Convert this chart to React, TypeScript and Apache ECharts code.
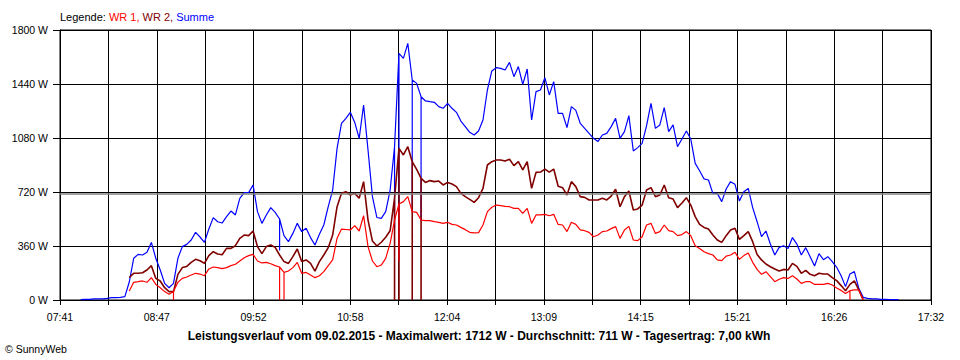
import { useEffect, useRef } from "react";
import * as echarts from "echarts";

// X axis tick labels (first..last), equally spaced
const xTickLabels = ["07:41", "08:47", "09:52", "10:58", "12:04", "13:09", "14:15", "15:21", "16:26", "17:32"];
const axisStartTime = "07:41";
const axisEndTime = "17:32";

// Samples: every 3 minutes starting at 07:55
const sampleStart = "07:55";
const sampleStepMin = 3;

const summe = [
  3, 4, 4, 7, 7, 7, 11, 16, 16, 18, 22, 120, 278, 304, 300, 318, 384, 278, 200, 111,
  82, 111, 278, 356, 371, 400, 451, 420, 384, 473, 549, 522, 513, 556, 593, 567, 678, 716, 716, 767,
  589, 511, 567, 616, 584, 540, 429, 389, 444, 511, 456, 478, 416, 367, 438, 500, 622, 733, 1011, 1178,
  1211, 1251, 1184, 1078, 1300, 1000, 689, 550, 544, 589, 733, 1022, 1644, 1611, 1711, 1467, 1444, 1355, 1327, 1322,
  1318, 1289, 1278, 1311, 1278, 1251, 1193, 1156, 1118, 1100, 1127, 1200, 1400, 1527, 1549, 1544, 1533, 1584, 1489, 1556,
  1438, 1540, 1200, 1389, 1400, 1482, 1367, 1456, 1244, 1244, 1149, 1289, 1264, 1178, 1144, 1111, 1078, 1056, 1100, 1111,
  1156, 1211, 1078, 1122, 1229, 993, 1016, 1044, 1162, 1311, 1144, 1167, 1282, 1122, 1167, 1022, 1073, 1127, 1073, 911,
  862, 807, 800, 711, 711, 656, 740, 789, 771, 660, 722, 744, 616, 522, 422, 460, 373, 300, 351, 362,
  344, 416, 373, 300, 349, 289, 227, 309, 269, 289, 256, 218, 162, 89, 173, 189, 78, 18, 11, 7,
  7, 4, 4, 2, 2, 2,
];

const wr2 = [
  null, null, null, null, null, null, null, null, null, null, null, 150, 178, 178, 182, 200, 229, 144, 127, 82,
  56, 56, 171, 216, 224, 251, 271, 262, 244, 296, 322, 307, 302, 344, 344, 362, 411, 433, 429, 460,
  356, 309, 356, 367, 351, 300, 256, 244, 289, 340, 256, 267, 244, 193, 256, 300, 349, 433, 622, 711,
  722, 700, 711, 678, 789, 533, 393, 360, 385, 418, 462, 678, 1011, 967, 1022, 922, 871, 811, 784, 796,
  789, 793, 767, 784, 773, 756, 711, 689, 671, 651, 682, 744, 900, 922, 933, 933, 927, 938, 896, 922,
  867, 922, 744, 851, 853, 873, 853, 873, 758, 749, 700, 789, 756, 689, 684, 667, 667, 667, 678, 667,
  693, 738, 622, 689, 727, 600, 607, 633, 733, 749, 689, 700, 767, 682, 673, 616, 647, 682, 633, 556,
  504, 484, 473, 433, 400, 384, 429, 467, 478, 404, 429, 456, 389, 304, 267, 240, 222, 207, 193, 204,
  200, 244, 224, 178, 198, 171, 162, 178, 173, 173, 149, 129, 96, 62, 104, 127, 67, 0, null, null,
  null, null, null, null, null, null,
];

const wr1 = [
  null, null, null, null, null, null, null, null, null, null, null, 60, 118, 122, 127, 118, 149, 104, 82, 56,
  38, 56, 118, 144, 153, 167, 178, 173, 162, 207, 220, 216, 209, 216, 229, 238, 260, 282, 296, 304,
  260, 247, 251, 242, 229, 220, 184, 193, 216, 251, 178, 184, 167, 149, 162, 189, 229, 267, 411, 473,
  470, 467, 496, 460, 562, 356, 260, 222, 233, 278, 378, 533, 640, 656, 689, 589, 584, 533, 529, 529,
  522, 518, 511, 518, 504, 500, 484, 469, 451, 447, 449, 500, 589, 618, 633, 629, 624, 622, 611, 611,
  578, 611, 511, 567, 567, 571, 562, 571, 504, 500, 456, 518, 504, 467, 462, 451, 422, 433, 456, 460,
  476, 489, 411, 467, 491, 400, 396, 422, 500, 511, 444, 456, 500, 462, 456, 429, 436, 456, 429, 362,
  344, 322, 309, 300, 267, 262, 293, 300, 318, 271, 296, 313, 251, 204, 171, 189, 156, 122, 138, 149,
  144, 162, 140, 111, 122, 122, 104, 104, 104, 111, 100, 80, 64, 44, 62, 67, 67, 0, null, null,
  null, null, null, null, null, null,
];

// Short logger drop-outs at sample times (time, value reached)
const wr1DropTimes = ["08:58", "10:10", "10:13", "11:31", "16:37"];
const wr1DropValues = [0, 0, 0, 260, 0];
const wr2DropTimes = ["11:28", "11:31", "11:40", "11:46"];
const wr2DropValues = [0, 0, 0, 0];
const sumDropTimes = ["10:10", "11:28", "11:31", "11:40", "11:46"];
const sumDropValues = [330, 480, 260, 590, 530];

const averageW = 711;
const titleText =
  "Leistungsverlauf vom 09.02.2015 - Maximalwert: 1712 W - Durchschnitt: 711 W - Tagesertrag: 7,00 kWh";

function toMin(s: string): number {
  const p = s.split(":").map(Number);
  return p[0] * 60 + p[1] + (p[2] || 0) / 60;
}
const axisStart = toMin(axisStartTime);
const axisSpan = (toMin(axisEndTime) - axisStart) / (xTickLabels.length - 1);
function toU(m: number): number {
  return (m - axisStart) / axisSpan;
}
function build(values: (number | null)[], dropTimes: string[], dropValues: number[]) {
  const t0 = toMin(sampleStart);
  const drops = new Map<number, number>();
  dropTimes.forEach((t, k) => drops.set(Math.round(toMin(t)), dropValues[k]));
  const pts: [number, number][] = [];
  values.forEach((v, i) => {
    if (v == null) return;
    const m = t0 + i * sampleStepMin;
    const u = toU(m);
    pts.push([u, v]);
    const d = drops.get(m);
    if (d !== undefined) {
      pts.push([u, d]);
      pts.push([u, v]);
    }
  });
  return pts;
}

const FONT = "'Liberation Sans', Arial, sans-serif";

export default function App() {
  const ref = useRef<HTMLDivElement>(null);
  useEffect(() => {
    if (!ref.current) return;
    const chart = echarts.init(ref.current, null, { renderer: "svg" });
    const black = "#000";
    chart.setOption({
      animation: false,
      backgroundColor: "#fff",
      textStyle: { fontFamily: FONT },
      grid: { left: 60, top: 30, right: 29, bottom: 60, show: true, borderColor: black, borderWidth: 1 },
      xAxis: {
        type: "value",
        min: 0,
        max: xTickLabels.length - 1,
        interval: 0.5,
        axisLine: { show: true, lineStyle: { color: black, width: 1 } },
        axisTick: { show: true, length: 5, lineStyle: { color: black } },
        splitLine: { show: true, lineStyle: { color: black, width: 1 } },
        axisLabel: {
          color: black,
          fontSize: 10.5,
          fontFamily: FONT,
          margin: 11,
          showMinLabel: true,
          showMaxLabel: true,
          formatter: (v: number) => {
            const k = Math.round(v * 2);
            return k % 2 === 0 ? xTickLabels[k / 2] : "";
          },
        },
      },
      yAxis: {
        type: "value",
        min: 0,
        max: 1800,
        interval: 360,
        axisLine: { show: true, lineStyle: { color: black, width: 1 } },
        axisTick: { show: true, length: 7, lineStyle: { color: black } },
        splitLine: { show: true, lineStyle: { color: black, width: 1 } },
        axisLabel: {
          color: black,
          fontSize: 10.5,
          fontFamily: FONT,
          margin: 12,
          formatter: (v: number) => `${v} W`,
        },
      },
      graphic: [
        {
          type: "text",
          x: 60,
          y: 17,
          style: {
            text: "{k|Legende: }{a|WR 1, }{b|WR 2, }{c|Summe}",
            verticalAlign: "middle",
            font: `11px ${FONT}`,
            rich: {
              k: { fill: "#000", fontSize: 11, fontFamily: FONT },
              a: { fill: "#ff0000", fontSize: 11, fontFamily: FONT },
              b: { fill: "#800000", fontSize: 11, fontFamily: FONT },
              c: { fill: "#0000ff", fontSize: 11, fontFamily: FONT },
            },
          },
        },
        {
          type: "text",
          x: 479,
          y: 336,
          style: {
            text: titleText,
            fill: "#000",
            font: `bold 12px ${FONT}`,
            textAlign: "center",
            verticalAlign: "middle",
          },
        },
        {
          type: "text",
          x: 5,
          y: 349,
          style: {
            text: "© SunnyWeb",
            fill: "#000",
            font: `10.5px ${FONT}`,
            textAlign: "left",
            verticalAlign: "middle",
          },
        },
      ],
      series: [
        {
          name: "Summe",
          type: "line",
          data: build(summe, sumDropTimes, sumDropValues),
          showSymbol: false,
          symbol: "none",
          lineStyle: { color: "#0000ff", width: 1.2 },
          markLine: {
            silent: true,
            symbol: "none",
            label: { show: false },
            lineStyle: { color: "#808080", width: 1.5, type: "solid" },
            data: [{ yAxis: averageW }],
          },
        },
        {
          name: "WR 2",
          type: "line",
          data: build(wr2, wr2DropTimes, wr2DropValues),
          showSymbol: false,
          symbol: "none",
          lineStyle: { color: "#800000", width: 1.6 },
        },
        {
          name: "WR 1",
          type: "line",
          data: build(wr1, wr1DropTimes, wr1DropValues),
          showSymbol: false,
          symbol: "none",
          lineStyle: { color: "#ff0000", width: 1.2 },
        },
      ],
    });
    return () => chart.dispose();
  }, []);
  return <div ref={ref} style={{ position: "fixed", left: 0, top: 0, width: 960, height: 360 }} />;
}
